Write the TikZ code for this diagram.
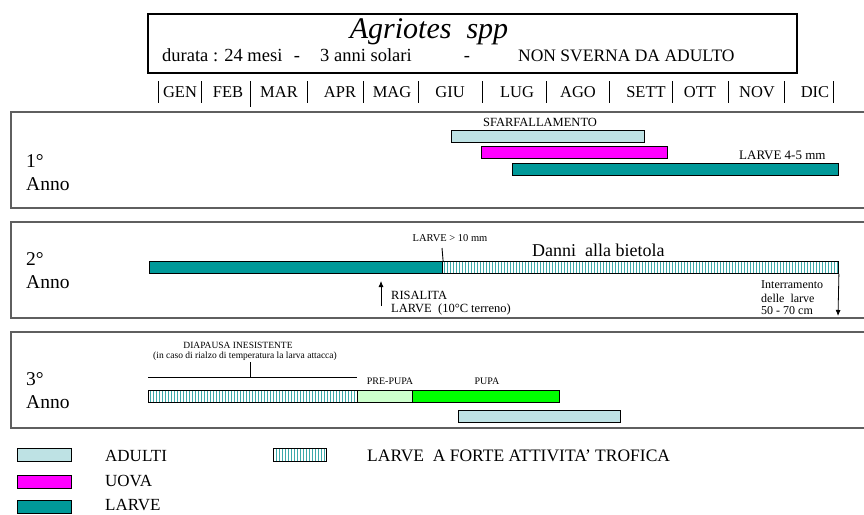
\documentclass[tikz,border=0pt]{standalone}
\usepackage{fontspec}
\setmainfont{Liberation Serif}
\usetikzlibrary{patterns.meta,arrows.meta}

\definecolor{adulti}{RGB}{190,226,228}
\definecolor{uova}{RGB}{255,0,255}
\definecolor{larve}{RGB}{0,153,153}
\definecolor{prepupa}{RGB}{204,255,204}
\definecolor{pupa}{RGB}{0,255,0}
\definecolor{righe}{RGB}{60,170,170}
\definecolor{cornice}{RGB}{95,95,95}

\tikzset{
  bar/.style={draw=black,line width=1.1pt,inner sep=0,anchor=north west,minimum height=12pt},
  trofica/.style={bar,pattern={Lines[angle=90,distance=3pt,line width=0.9pt]},pattern color=righe},
  anno/.style={draw=cornice,line width=1.6pt},
  fs/.style={font=\fontsize{#1}{#1}\selectfont},
}

\begin{document}
\begin{tikzpicture}
  [x=1pt,y=-1pt,every node/.style={inner sep=0}]
  \fill[white] (0,0) rectangle (864,514);
  \useasboundingbox (0,0) rectangle (864,514);

  % intestazione
  \draw[line width=1.2pt] (148,14) rectangle (797,73);
  \node[fs=30] (titolo) at (429,32) {\itshape Agriotes~~spp};
  \node[fs=18.5,anchor=base west] (durata) at (162,61) {durata : 24 mesi};
  \node[fs=18.5,anchor=base] (tr1) at (297,61) {-};
  \node[fs=18.5,anchor=base west] (solari) at (320,61) {3 anni solari};
  \node[fs=18.5,anchor=base] (tr2) at (467,61) {-};
  \node[fs=17.5,anchor=base west] (sverna) at (518,61) {NON SVERNA DA ADULTO};

  % mesi
  \foreach \x in {158,201,307,363,418,482,546,609,672,728,784,833}
    \draw[line width=0.9pt] (\x,81) -- (\x,103);
  \draw[line width=0.9pt] (250,81) -- (250,107);
  \foreach \m/\x in {GEN/180,FEB/228,MAR/279,APR/340,MAG/392,GIU/450,
              LUG/517,AGO/578,SETT/646,OTT/700,NOV/757,DIC/815}
    \node[fs=16.5] (\m) at (\x,92) {\m};

  % 1 anno
  \draw[anno] (864,112) -| (11,208) -- (864,208);
  \node[fs=19.5,anchor=west] (a1) at (26,161) {1°};
  \node[fs=19.5,anchor=west] (a1b) at (26,184) {Anno};
  \node[bar,fill=adulti,minimum width=193pt] (ad1) at (451,130) {};
  \node[bar,fill=uova,minimum width=186pt] (uo1) at (481,146) {};
  \node[bar,fill=larve,minimum width=326pt] (la1) at (512,163) {};
  \node[fs=12.5] (sfarf) at (540,122) {SFARFALLAMENTO};
  \node[fs=13,anchor=west] (lar45) at (739,155) {LARVE 4-5 mm};

  % 2 anno
  \draw[anno] (864,222) -| (11,318) -- (864,318);
  \node[fs=19.5,anchor=west] (a2) at (26,259) {2°};
  \node[fs=19.5,anchor=west] (a2b) at (26,282) {Anno};
  \node[bar,fill=larve,minimum width=293pt] (la2) at (149,261) {};
  \node[trofica,minimum width=396pt] (tr2) at (442,261) {};
  \coordinate (lt) at (442,248);
  \draw[line width=0.9pt] (lt) -- (la2.north east);
  \node[fs=10.5] (lar10) at (450,238) {LARVE > 10 mm};
  \node[fs=18,anchor=west] (danni) at (532,250) {Danni~~alla bietola};
  \coordinate (ris0) at (381,306);
  \coordinate (ris1) at (381,281);
  \draw[line width=0.8pt,-{Latex[length=6pt,width=5pt]}] (ris0) -- (ris1);
  \node[fs=12.5,anchor=west] (risal) at (391,295) {RISALITA};
  \node[fs=12.5,anchor=west] (risal2) at (391,309) {LARVE~~(10°C terreno)};
  \coordinate (int1) at (838,316);
  \draw[line width=0.8pt,-{Latex[length=6pt,width=5pt]}] (tr2.south east) -- (int1);
  \node[fs=12,anchor=west] (inter1) at (761,285) {Interramento};
  \node[fs=12,anchor=west] (inter2) at (761,298) {delle~~larve};
  \node[fs=12,anchor=west] (inter3) at (761,311) {50 - 70 cm};

  % 3 anno
  \draw[anno] (864,332) -| (11,428) -- (864,428);
  \node[fs=19.5,anchor=west] (a3) at (26,379) {3°};
  \node[fs=19.5,anchor=west] (a3b) at (26,402) {Anno};
  \node[fs=9.5] (diap) at (238,345) {DIAPAUSA INESISTENTE};
  \node[fs=9.5] (diap2) at (245,356) {(in caso di rialzo di temperatura la larva attacca)};
  \coordinate (dl) at (148,377);
  \coordinate (dr) at (357,377);
  \coordinate (dt) at (250,362);
  \coordinate (db) at (250,377);
  \draw[line width=0.9pt] (dl) -- (dr);
  \draw[line width=0.9pt] (dt) -- (db);
  \node[trofica,minimum width=209pt] (tr3) at (148,390) {};
  \node[bar,fill=prepupa,minimum width=55pt] (pp3) at (357,390) {};
  \node[bar,fill=pupa,minimum width=147pt] (pu3) at (412,390) {};
  \node[bar,fill=adulti,minimum width=162pt] (ad3) at (458,410) {};
  \node[fs=10] (prep) at (390,381) {PRE-PUPA};
  \node[fs=10] (pupa) at (487,381) {PUPA};

  % legenda
  \node[bar,fill=adulti,minimum width=54pt,minimum height=13pt] (lad) at (17,448) {};
  \node[bar,fill=uova,minimum width=54pt,minimum height=13pt] (luo) at (17,475) {};
  \node[bar,fill=larve,minimum width=54pt,minimum height=13pt] (lla) at (17,500) {};
  \node[trofica,minimum width=53pt,minimum height=13pt] (ltr) at (273,448) {};
  \node[fs=17,anchor=west] (tad) at (105,456) {ADULTI};
  \node[fs=17,anchor=west] (tuo) at (105,481) {UOVA};
  \node[fs=17,anchor=west] (tla) at (105,505) {LARVE};
  \node[fs=17.5,anchor=west] (ttr) at (367,456) {LARVE~~A FORTE ATTIVITA' TROFICA};
\end{tikzpicture}
\end{document}
